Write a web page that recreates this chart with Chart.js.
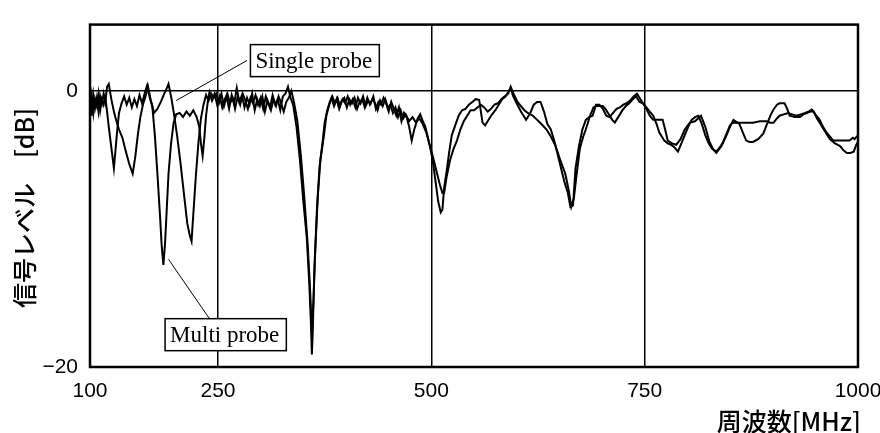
<!DOCTYPE html>
<html>
<head>
<meta charset="utf-8">
<script src="https://cdn.jsdelivr.net/npm/chart.js@4"></script>
<style>
  body { margin: 0; background: #fff; }
</style>
</head>
<body>
<canvas id="chart" width="880" height="433"></canvas>
<script>
// frequency [MHz], signal level [dB]
const singleProbe = [
  [100,-0.6],[102,-1.8],[104,-0.3],[106,-1.2],[108,-0.5],[110,-1.5],[112,-0.4],[114,-0.9],[116,-0.2],[118,-0.8],
  [120,0.3],[122,0.5],[125,-0.6],[128,-1.5],[131,-2.2],[134,-2.8],[138,-3.4],[142,-4.4],[146,-5.3],[150,-6.0],
  [153,-4.8],[156,-3.2],[159,-1.9],[162,-1.0],[165,-0.4],[168,0.3],[171,-0.6],[175,-1.6],[179,-1.3],[183,-0.8],
  [187,-0.2],[190,0.2],[192,0.5],[195,-0.4],[198,-1.5],[202,-3.2],[206,-5.2],[210,-7.4],[214,-9.6],[217,-10.5],
  [219,-10.9],[221,-9.0],[224,-6.2],[227,-3.8],[230,-2.0],[233,-1.0],[236,-0.3],[239,-0.7],[242,-0.2],[245,-0.5],
  [248,-0.2],[251,-0.9],[254,-0.2],[257,-1.1],[260,-0.4],[263,-1.3],[266,-0.3],[269,-0.9],[272,0.2],[275,-0.8],
  [278,-0.3],[281,-1.2],[284,-0.5],[287,-1.0],[290,-0.2],[293,-1.4],[296,-0.6],[299,-1.1],[302,-0.4],[305,-1.5],
  [308,-0.7],[311,-1.2],[314,-0.3],[317,-1.0],[320,-0.6],[323,-1.4],[326,-0.4],[329,-0.2],[332,0.3],[335,-0.5],
  [338,-1.0],[342,-2.6],[346,-5.0],[350,-8.0],[354,-10.6],[357,-14.0],[359,-17.0],[360,-19.1],[361,-17.5],[363,-12.8],
  [366,-8.5],[369,-5.5],[372,-4.0],[375,-2.3],[378,-1.4],[381,-0.8],[384,-0.4],[387,-0.9],[390,-0.5],[393,-1.1],
  [396,-0.6],[399,-0.9],[402,-0.4],[405,-1.0],[408,-0.6],[411,-1.2],[414,-0.5],[417,-0.9],[420,-0.4],[423,-1.1],
  [426,-0.7],[429,-0.9],[432,-0.4],[435,-1.3],[438,-0.8],[441,-1.0],[444,-0.5],[447,-0.9],[450,-1.5],[453,-0.8],
  [456,-1.3],[459,-1.8],[462,-1.2],[465,-2.2],[468,-1.6],[471,-1.9],[474,-2.6],[477,-3.6],[480,-2.8],[484,-2.0],
  [487,-1.7],[490,-2.2],[493,-2.6],[496,-3.4],[499,-4.2],[502,-5.2],[505,-6.6],[508,-8.0],[511,-8.8],[513,-8.6],
  [515,-7.0],[518,-5.8],[521,-4.4],[524,-3.2],[528,-2.5],[532,-1.8],[536,-1.4],[540,-1.3],[544,-1.0],[548,-0.8],
  [552,-0.6],[556,-0.65],[560,-2.3],[563,-2.5],[566,-2.2],[570,-1.8],[575,-1.4],[579,-1.0],[583,-0.6],[587,-0.4],
  [590,-0.1],[593,0.2],[596,-0.4],[600,-0.9],[605,-1.5],[611,-2.1],[616,-1.6],[620,-1.0],[624,-0.8],[628,-0.8],
  [632,-1.5],[636,-2.4],[640,-2.8],[644,-3.6],[648,-4.6],[652,-5.6],[656,-6.6],[660,-7.4],[663,-8.4],[666,-8.3],
  [669,-5.6],[673,-4.0],[677,-2.8],[681,-2.1],[685,-1.9],[689,-1.8],[693,-1.0],[697,-1.0],[701,-1.3],[705,-1.8],
  [709,-1.9],[713,-1.6],[717,-1.3],[721,-1.2],[725,-1.0],[729,-0.9],[733,-0.7],[737,-0.4],[741,-0.2],[745,-0.6],
  [748,-0.9],[752,-1.3],[756,-1.8],[760,-2.1],[766,-2.1],[771,-2.1],[774,-2.8],[777,-3.6],[782,-3.8],[787,-3.9],
  [792,-3.5],[797,-2.8],[803,-2.3],[809,-2.2],[816,-1.8],[821,-2.6],[826,-3.7],[830,-4.2],[834,-4.5],[840,-4.0],
  [846,-3.2],[850,-2.6],[854,-2.1],[861,-2.4],[865,-3.0],[869,-3.6],[873,-3.7],[877,-3.7],[883,-3.5],[889,-3.1],
  [894,-2.3],[898,-1.7],[901,-1.35],[905,-1.0],[908,-0.9],[914,-0.9],[917,-1.3],[920,-1.8],[926,-1.9],[932,-1.9],
  [936,-1.7],[940,-1.6],[944,-1.5],[948,-1.5],[952,-2.0],[957,-2.5],[962,-3.0],[967,-3.5],[973,-3.8],[979,-4.0],
  [983,-4.3],[987,-4.5],[991,-4.5],[995,-4.4],[998,-3.9],[1000,-3.7]
];

const multiProbe = [
  [100,-1.2],[102,-0.3],[104,-1.6],[106,-0.6],[108,-1.1],[110,-0.2],[112,-1.4],[114,-0.6],[116,-1.0],[118,-0.5],
  [120,-1.5],[122,-2.6],[124,-3.6],[126,-4.6],[128,-5.6],[130,-4.2],[132,-2.8],[134,-1.6],[137,-0.9],[140,-0.4],
  [143,-1.0],[146,-0.5],[149,-1.2],[152,-0.6],[155,-1.1],[158,-0.3],[161,-0.9],[164,-0.2],[167,0.4],[170,-0.5],
  [173,-1.1],[176,-3.2],[179,-6.0],[182,-9.0],[184,-11.2],[186,-12.6],[188,-11.0],[190,-8.5],[192,-6.0],[195,-3.8],
  [198,-2.3],[201,-1.7],[205,-1.6],[209,-1.9],[213,-1.5],[217,-1.8],[221,-1.4],[225,-1.9],[228,-2.6],[230,-3.8],
  [232,-4.7],[234,-3.4],[236,-1.8],[238,-0.8],[240,-0.1],[243,-0.7],[246,-0.2],[249,-1.0],[252,-0.4],[255,-1.2],
  [258,-0.6],[261,-0.2],[264,-0.9],[267,-0.5],[270,-1.3],[273,-0.4],[276,-1.0],[279,-0.2],[282,-0.7],[285,-1.3],
  [288,-0.5],[291,-0.9],[294,-0.3],[297,-1.0],[300,-0.5],[303,-1.3],[306,-0.4],[309,-0.9],[312,-1.4],[315,-0.6],
  [318,-1.1],[321,-0.4],[324,-0.9],[327,-1.5],[330,-0.8],[333,-0.5],[336,0.0],[339,-0.8],[343,-2.2],[347,-4.6],
  [351,-7.6],[355,-11.0],[358,-14.5],[360,-17.6],[362,-15.0],[364,-11.5],[367,-7.6],[370,-5.0],[374,-3.3],[377,-1.8],
  [380,-1.1],[383,-0.5],[386,-1.1],[389,-0.6],[392,-1.3],[395,-0.7],[398,-0.5],[401,-1.2],[404,-0.6],[407,-0.9],
  [410,-0.5],[413,-1.3],[416,-0.8],[419,-0.6],[422,-1.2],[425,-0.5],[428,-1.0],[431,-0.6],[434,-0.9],[437,-1.4],
  [440,-0.7],[443,-1.1],[446,-0.6],[449,-1.2],[452,-1.0],[455,-1.6],[458,-1.2],[461,-1.9],[464,-1.4],[467,-2.0],
  [470,-1.7],[474,-2.2],[478,-1.9],[482,-2.3],[486,-2.0],[490,-2.4],[494,-3.0],[498,-3.9],[502,-4.8],[506,-5.8],
  [510,-6.8],[513,-7.4],[515,-7.4],[518,-6.2],[522,-5.0],[526,-4.2],[530,-3.6],[534,-2.8],[538,-2.2],[542,-1.8],
  [546,-1.4],[550,-1.4],[554,-1.2],[558,-1.0],[562,-1.2],[566,-1.5],[570,-1.3],[574,-1.0],[578,-0.9],[582,-0.6],
  [586,-0.4],[590,-0.2],[593,0.3],[597,-0.3],[601,-0.8],[605,-1.1],[609,-1.4],[613,-1.6],[619,-1.8],[624,-2.1],
  [629,-2.4],[635,-2.8],[640,-3.3],[645,-3.9],[651,-5.0],[657,-6.0],[661,-7.2],[664,-8.4],[667,-7.8],[670,-6.2],
  [674,-4.2],[678,-3.3],[681,-2.8],[686,-1.8],[690,-1.2],[693,-1.1],[697,-1.1],[701,-1.1],[705,-1.4],[709,-1.8],
  [712,-2.1],[715,-2.3],[719,-1.9],[724,-1.4],[728,-1.1],[732,-0.9],[736,-0.6],[740,-0.4],[744,-0.8],[748,-0.9],
  [752,-1.2],[756,-1.5],[760,-1.8],[764,-2.4],[767,-3.0],[773,-3.6],[777,-3.8],[781,-3.9],[785,-4.1],[789,-4.4],
  [793,-3.8],[797,-3.2],[801,-2.6],[805,-2.1],[809,-1.9],[813,-1.8],[817,-2.4],[821,-3.2],[825,-3.8],[829,-4.2],
  [834,-4.4],[838,-4.1],[842,-3.7],[846,-3.1],[850,-2.5],[853,-2.3],[856,-2.3],[862,-2.3],[870,-2.3],[877,-2.3],
  [885,-2.2],[893,-2.2],[897,-2.3],[901,-2.3],[905,-2.0],[908,-1.8],[913,-1.7],[918,-1.6],[923,-1.7],[928,-1.8],
  [933,-1.7],[938,-1.6],[942,-1.5],[946,-1.35],[950,-1.7],[955,-2.1],[959,-2.6],[963,-3.0],[967,-3.3],[971,-3.6],
  [975,-3.6],[979,-3.6],[985,-3.6],[990,-3.6],[994,-3.4],[996,-3.5],[1000,-3.2]
];

const xTicks = [100, 250, 500, 750, 1000];
const yTicks = [-20, 0];

// callout boxes, anchored in data coordinates
const callouts = [
  { text: 'Single probe', box: [288, 3.35], from: [284, 2.2], tip: [201, -0.7] },
  { text: 'Multi probe', box: [188, -16.5], from: [240, -16.5], tip: [192, -12.2] }
];

const toPoints = arr => arr.map(p => ({ x: p[0], y: p[1] }));

const framePlugin = {
  id: 'frameAndLabels',
  afterDatasetsDraw(chart) {
    const { ctx, chartArea: a, scales: { x, y } } = chart;
    ctx.save();
    // frame
    ctx.strokeStyle = '#000';
    ctx.lineWidth = 2.5;
    ctx.strokeRect(a.left, a.top, a.right - a.left, a.bottom - a.top);

    // callouts
    ctx.font = '23px "Liberation Serif"';
    ctx.textBaseline = 'middle';
    ctx.textAlign = 'left';
    callouts.forEach(c => {
      const bx = x.getPixelForValue(c.box[0]);
      const by = y.getPixelForValue(c.box[1]);
      const w = ctx.measureText(c.text).width + 12;
      const h = 32;
      ctx.lineWidth = 1;
      ctx.beginPath();
      ctx.moveTo(x.getPixelForValue(c.from[0]), y.getPixelForValue(c.from[1]));
      ctx.lineTo(x.getPixelForValue(c.tip[0]), y.getPixelForValue(c.tip[1]));
      ctx.stroke();
      ctx.fillStyle = '#fff';
      ctx.fillRect(bx, by, w, h);
      ctx.lineWidth = 1.5;
      ctx.strokeRect(bx, by, w, h);
      ctx.fillStyle = '#000';
      ctx.fillText(c.text, bx + 5, by + h / 2 + 1);
    });

    // axis titles
    ctx.font = '500 25px "Noto Sans CJK JP"';
    ctx.textAlign = 'right';
    ctx.fillText('周波数[MHz]', 861, 421);

    ctx.translate(24, 208);
    ctx.rotate(-Math.PI / 2);
    ctx.textAlign = 'center';
    ctx.fillText('信号レベル\u3000[dB]', 0, 0);
    ctx.restore();
  }
};

new Chart(document.getElementById('chart').getContext('2d'), {
  type: 'line',
  data: {
    datasets: [
      { label: 'Single probe', data: toPoints(singleProbe), borderColor: '#000', borderWidth: 2, pointRadius: 0, tension: 0 },
      { label: 'Multi probe', data: toPoints(multiProbe), borderColor: '#000', borderWidth: 2, pointRadius: 0, tension: 0 }
    ]
  },
  options: {
    responsive: false,
    animation: false,
    layout: { padding: { top: 12, right: 22, left: 0, bottom: 0 } },
    plugins: { legend: { display: false }, tooltip: { enabled: false } },
    scales: {
      x: {
        type: 'linear',
        min: 100,
        max: 1000,
        afterBuildTicks: s => { s.ticks = xTicks.map(v => ({ value: v })); },
        afterFit: s => { s.height = 66; s.paddingLeft = 0; s.paddingRight = 0; },
        grid: { color: '#000', lineWidth: 1.5, drawTicks: false },
        border: { display: false },
        ticks: {
          color: '#000', padding: 12, maxRotation: 0,
          font: { family: 'Liberation Sans', size: 21 },
          callback: v => String(v)
        }
      },
      y: {
        min: -20,
        max: 4.8,
        afterBuildTicks: s => { s.ticks = yTicks.map(v => ({ value: v })); },
        afterFit: s => { s.width = 90; },
        grid: { color: '#000', lineWidth: 1.5, drawTicks: false },
        border: { display: false },
        ticks: {
          color: '#000', padding: 12,
          font: { family: 'Liberation Sans', size: 21 },
          callback: v => v < 0 ? '\u2212' + Math.abs(v) : String(v)
        }
      }
    }
  },
  plugins: [framePlugin]
});
</script>
</body>
</html>
